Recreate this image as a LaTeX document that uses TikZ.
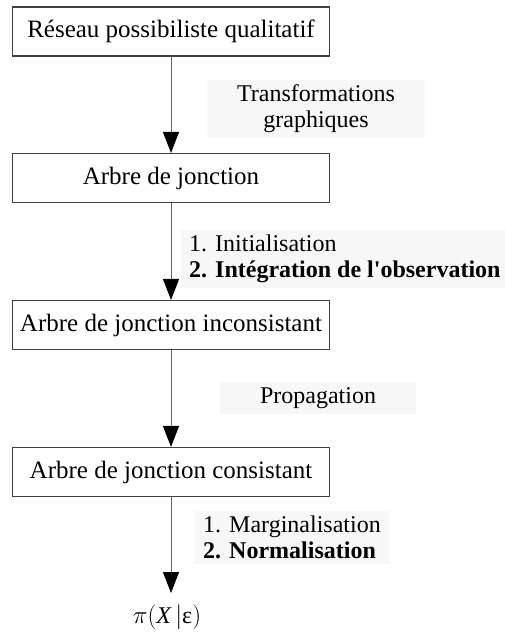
\documentclass[tikz,border=0pt]{standalone}
\usepackage{fontspec}
\setmainfont{Liberation Serif}[Ligatures=TeXOff]
\usetikzlibrary{arrows.meta}
\begin{document}
\begin{tikzpicture}[x=1pt,y=-1pt,
  txt/.style={font=\fontsize{24}{26}\selectfont},
  stage/.style={font=\fontsize{25}{27}\selectfont, draw=black!75,
    line width=1.1pt, minimum width=317pt, minimum height=49pt, inner sep=0pt},
  flow/.style={draw=black!60, line width=1pt,
    -{Triangle[length=21pt,width=16pt,color=black]}},
  note/.style={txt, fill=black!3, align=left, inner xsep=8pt, inner ysep=5pt}]
\useasboundingbox (0,0) rectangle (504,639);

% processing stages
\node[stage] (n1) at (171,31.5) {Réseau possibiliste qualitatif};
\node[stage] (n2) at (171,178)  {Arbre de jonction};
\node[stage] (n3) at (171,325)  {Arbre de jonction inconsistant};
\node[stage] (n4) at (171,472)  {Arbre de jonction consistant};
\node[txt] (res) at (167,617)
  {$\pi\bigl(\mbox{\itshape X}\,\big|\mbox{ε}\bigr)$};
\coordinate (tip) at (171,593);

% transitions
\draw[flow] (n1) -- (n2);
\draw[flow] (n2) -- (n3);
\draw[flow] (n3) -- (n4);
\draw[flow] (n4) -- (tip);

% step descriptions
\node[note, align=center, inner xsep=30pt] (l1) at (316,109)
  {Transformations\\graphiques};
\node[note, anchor=west] (l2) at (181,259)
  {1. Initialisation\\\textbf{2. Intégration de l'observation}};
\node[note, inner xsep=40pt] (l3) at (318,398) {Propagation};
\node[note, anchor=west] (l4) at (195,537)
  {1. Marginalisation\\\textbf{2. Normalisation}};
\end{tikzpicture}
\end{document}
